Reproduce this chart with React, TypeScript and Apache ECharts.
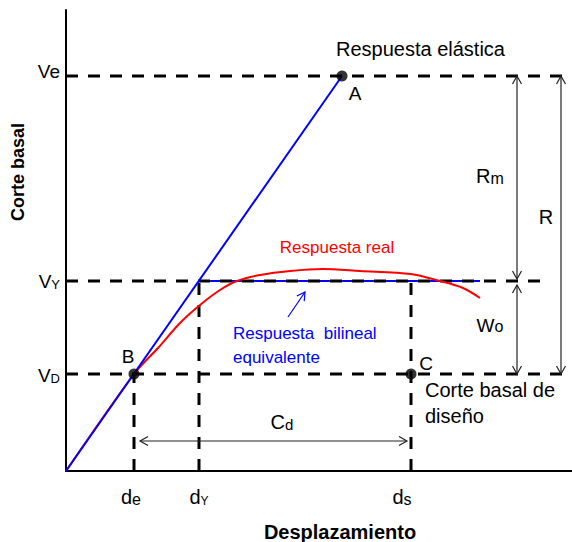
import React, { useEffect, useRef } from 'react';
import * as echarts from 'echarts';

const X_MAX = 506;
const Y_MAX = 461;

// characteristic levels (shear) and displacements
const levelValues = [395, 190, 97]; // Ve, VY, VD
const dispValues = [68, 133, 345]; // de, dY, ds

const elasticLine = [[0, 0], [276, 395]];
const bilinearPlateau = [[133, 190], [414, 190]];
const realResponse = [
  [0, 0], [68, 97], [92, 123], [114, 148], [134, 166], [154, 181], [171, 190],
  [194, 196], [224, 200], [257, 202], [294, 200], [345, 197], [374, 190],
  [397, 183], [414, 173],
];
const pointValues = [[276, 395], [68, 97], [345, 97]]; // A, B, C

const guides = [
  [[0, 395], [506, 395]],
  [[0, 190], [476, 190]],
  [[0, 97], [506, 97]],
  [[68, 0], [68, 97]],
  [[133, 0], [133, 190]],
  [[345, 0], [345, 190]],
];

// x1, y1, x2, y2, heads (2 = both ends), colour
const arrows = [
  [74, 30, 341, 30, 2, '#222'],
  [451, 395, 451, 192, 2, '#222'],
  [451, 186, 451, 97, 2, '#222'],
  [495, 395, 495, 97, 2, '#222'],
  [222, 154, 239, 179, 1, '#0000ff'],
];

type Ann = { t: string; x: number; y: number; align?: string; size?: number; color?: string; bold?: boolean; rot?: number; sub?: number };
const annotations: Ann[] = [
  { t: '{m|Ve}', x: -6, y: 400, align: 'right', size: 19 },
  { t: '{m|V}{s|Y}', x: -6, y: 190, align: 'right', size: 19, sub: 13 },
  { t: '{m|V}{s|D}', x: -6, y: 96, align: 'right', size: 19, sub: 13 },
  { t: '{m|d}{s|e}', x: 65, y: -26, align: 'center', size: 20, sub: 16 },
  { t: '{m|d}{s|Y}', x: 133, y: -26, align: 'center', size: 20, sub: 12 },
  { t: '{m|d}{s|s}', x: 336, y: -26, align: 'center', size: 20, sub: 16 },
  { t: 'A', x: 289, y: 378, align: 'center', size: 19 },
  { t: 'B', x: 62, y: 115, align: 'center', size: 19 },
  { t: 'C', x: 360, y: 108, align: 'center', size: 19 },
  { t: 'Respuesta elástica', x: 270, y: 422, align: 'left', size: 20 },
  { t: 'Respuesta real', x: 271, y: 224, align: 'center', size: 17, color: '#ff0000' },
  { t: 'Respuesta  bilineal', x: 167, y: 138, align: 'left', size: 17, color: '#0000ff' },
  { t: 'equivalente', x: 167, y: 114, align: 'left', size: 17, color: '#0000ff' },
  { t: 'Corte basal de', x: 359, y: 81, align: 'left', size: 20 },
  { t: 'diseño', x: 359, y: 55, align: 'left', size: 20 },
  { t: '{m|C}{s|d}', x: 216, y: 49, align: 'center', size: 20, sub: 15 },
  { t: '{m|R}{s|m}', x: 424, y: 295, align: 'center', size: 20, sub: 16 },
  { t: 'R', x: 480, y: 254, align: 'center', size: 20 },
  { t: '{m|W}{s|o}', x: 424, y: 146, align: 'center', size: 19, sub: 16 },
  { t: 'Desplazamiento', x: 274, y: -61, align: 'center', size: 20, bold: true },
  { t: 'Corte basal', x: -48, y: 299, align: 'center', size: 18, bold: true, rot: Math.PI / 2 },
];

const FONT = '"Liberation Sans", Arial, sans-serif';

export default function App() {
  const ref = useRef<HTMLDivElement>(null);
  useEffect(() => {
    document.body.style.margin = '0';
    const chart = echarts.init(ref.current!, null, { renderer: 'svg' });

    const guideData: any[] = [];
    guides.forEach((g, i) => {
      if (i > 0) guideData.push([null, null]);
      guideData.push(g[0], g[1]);
    });

    const option: any = {
      animation: false,
      grid: { left: 66, right: 0, top: 10, bottom: 71, containLabel: false },
      xAxis: {
        type: 'value', min: 0, max: X_MAX,
        axisLine: { show: true, onZero: false, lineStyle: { color: '#000', width: 2 } },
        axisTick: { show: false }, axisLabel: { show: false }, splitLine: { show: false },
      },
      yAxis: {
        type: 'value', min: 0, max: Y_MAX,
        axisLine: { show: true, onZero: false, lineStyle: { color: '#000', width: 2 } },
        axisTick: { show: false }, axisLabel: { show: false }, splitLine: { show: false },
      },
      series: [
        {
          type: 'line', data: bilinearPlateau, symbol: 'none',
          lineStyle: { color: '#0000ff', width: 2 }, z: 2,
        },
        {
          type: 'line', data: guideData, symbol: 'none', connectNulls: false,
          lineStyle: { color: '#000', width: 3, type: [12, 10] }, z: 3,
        },
        {
          type: 'line', data: realResponse, symbol: 'none', smooth: 0.3,
          lineStyle: { color: '#ff0000', width: 2 }, z: 4,
        },
        {
          type: 'line', data: elasticLine, symbol: 'none',
          lineStyle: { color: '#0000ff', width: 2 }, z: 5,
        },
        {
          type: 'scatter', data: pointValues, symbol: 'circle', symbolSize: 11,
          itemStyle: { color: '#000' }, z: 6,
        },
        {
          type: 'custom', clip: false, z: 7,
          data: arrows.map((a) => [a[0], a[1], a[2], a[3]]),
          renderItem: (params: any, api: any) => {
            const a = arrows[params.dataIndex];
            const p1 = api.coord([api.value(0), api.value(1)]);
            const p2 = api.coord([api.value(2), api.value(3)]);
            const dx = p2[0] - p1[0];
            const dy = p2[1] - p1[1];
            const len = Math.sqrt(dx * dx + dy * dy) || 1;
            const ux = dx / len, uy = dy / len;
            const nx = -uy, ny = ux;
            const hl = 8, hw = 4.5;
            const color = a[5] as string;
            const head = (p: number[], sx: number) => ({
              type: 'polyline',
              shape: {
                points: [
                  [p[0] - sx * hl * ux + hw * nx, p[1] - sx * hl * uy + hw * ny],
                  [p[0], p[1]],
                  [p[0] - sx * hl * ux - hw * nx, p[1] - sx * hl * uy - hw * ny],
                ],
              },
              style: { stroke: color, lineWidth: 1.2, fill: 'none' },
            });
            const children: any[] = [
              { type: 'line', shape: { x1: p1[0], y1: p1[1], x2: p2[0], y2: p2[1] }, style: { stroke: color, lineWidth: 1.2 } },
              head(p2, 1),
            ];
            if (a[4] === 2) children.push(head(p1, -1));
            return { type: 'group', children };
          },
        },
        {
          type: 'custom', clip: false, z: 8,
          data: annotations.map((a) => [a.x, a.y]),
          renderItem: (params: any, api: any) => {
            const a = annotations[params.dataIndex];
            const p = api.coord([api.value(0), api.value(1)]);
            const size = a.size || 18;
            const color = a.color || '#000';
            const sub = a.sub || size;
            const subLH = size - 0.7 * (size - sub);
            return {
              type: 'text',
              x: p[0], y: p[1],
              rotation: a.rot || 0,
              style: {
                text: a.t,
                fontFamily: FONT,
                fontSize: size,
                fontWeight: a.bold ? 'bold' : 'normal',
                fill: color,
                align: a.align || 'left',
                verticalAlign: 'middle',
                rich: {
                  m: { fontSize: size, fontFamily: FONT, fill: color, verticalAlign: 'bottom', lineHeight: size },
                  s: { fontSize: sub, fontFamily: FONT, fill: color, verticalAlign: 'bottom', lineHeight: subLH },
                },
              },
            };
          },
        },
      ],
    };
    chart.setOption(option);
    return () => chart.dispose();
  }, []);
  return <div ref={ref} style={{ width: 572, height: 542 }} />;
}
